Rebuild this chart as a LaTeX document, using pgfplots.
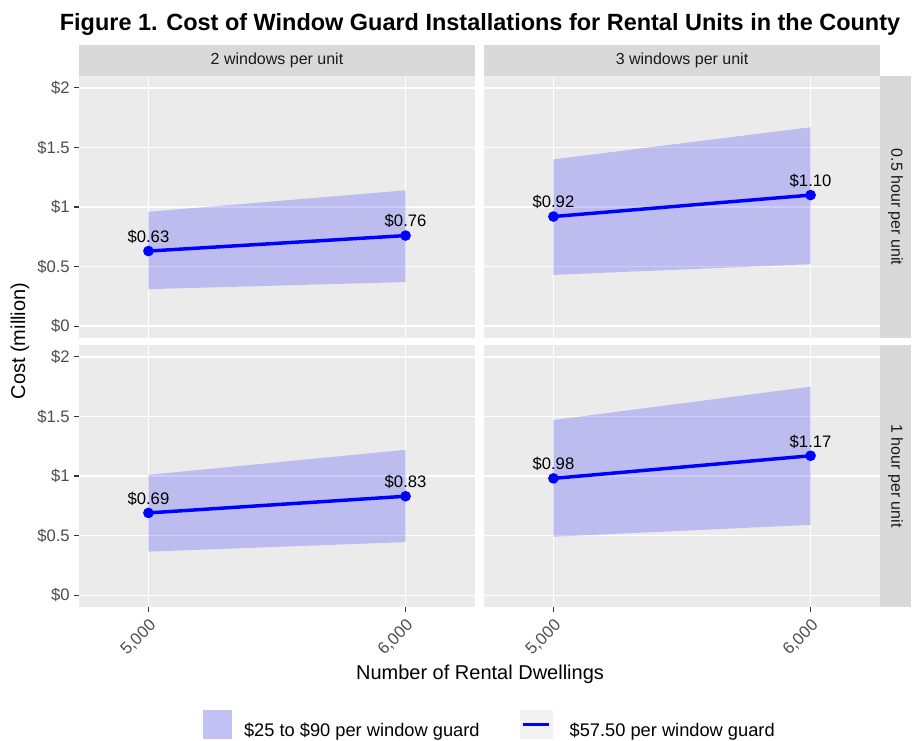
\documentclass[border=0pt]{standalone}
\usepackage{fontspec}
\setmainfont{Liberation Sans}
\usepackage{pgfplots}
\pgfplotsset{compat=1.18}

\definecolor{gray92}{RGB}{235,235,235}
\definecolor{gray85}{RGB}{217,217,217}
\definecolor{gray95}{RGB}{242,242,242}
\definecolor{gray30}{RGB}{77,77,77}
\definecolor{gray20}{RGB}{51,51,51}
\definecolor{gray10}{RGB}{26,26,26}

\pgfplotsset{
  facet/.style={
    width=297pt, height=196.5pt, scale only axis,
    xmin=4730, xmax=6270, ymin=-0.1, ymax=2.1,
    axis background/.style={fill=gray92},
    axis line style={draw=none},
    grid=major, major grid style={white, line width=0.9pt},
    xtick={5000,6000}, ytick={0,0.5,1,1.5,2},
    tickpos=left, tick align=outside, major tick length=3.4pt,
    tick style={gray20, line width=0.8pt},
    tick label style={font=\fontsize{12.5}{14}\selectfont, text=gray30},
    anchor=north west,
  },
  nox/.style={xticklabels={}, xtick style={draw=none}},
  noy/.style={yticklabels={}, ytick style={draw=none}},
  withx/.style={xticklabels={{5,000},{6,000}},
    xticklabel style={rotate=45, anchor=north east}},
  withy/.style={yticklabels={\$0,\$0.5,\$1,\$1.5,\$2}},
  band/.style={forget plot, draw=none, fill=blue, fill opacity=0.2},
  mid/.style={forget plot, blue, line width=2.6pt, mark=*, mark size=2.6pt,
    point meta=y,
    nodes near coords={\$\pgfmathprintnumber[assume math mode=true,fixed,fixed zerofill,precision=2]{\pgfplotspointmeta}},
    nodes near coords style={anchor=south, text=black, yshift=1pt,
      font=\fontsize{12.5}{14}\selectfont}},
}
\newcommand\topstrip[1]{%
  \fill[gray85] (axis description cs:0,1) rectangle ([yshift=23.25pt]axis description cs:1,1);
  \node[text=gray10, font=\fontsize{12}{14}\selectfont] at ([yshift=11.6pt]axis description cs:0.5,1) {#1};}
\newcommand\sidestrip[1]{%
  \fill[gray85] (axis description cs:1,0) rectangle ([xshift=23.25pt]axis description cs:1,1);
  \node[text=gray10, rotate=-90, font=\fontsize{12}{14}\selectfont] at ([xshift=11.6pt]axis description cs:1,0.5) {#1};}

\begin{document}
\begin{tikzpicture}
\path[use as bounding box] (0,0) rectangle (687.75pt,-555pt);

\node[font=\bfseries\fontsize{17.6}{20}\selectfont] at (360pt,-18pt)
  {Figure 1. Cost of Window Guard Installations for Rental Units in the County};

% 2 windows, 0.5 hour
\begin{axis}[facet, nox, withy, at={(59.25pt,-57pt)},
  extra description/.code={\topstrip{2 windows per unit}}]
\addplot[band] coordinates {(5000,0.31) (6000,0.37) (6000,1.14) (5000,0.96)};
\addplot[mid] coordinates {(5000,0.63) (6000,0.76)};
\end{axis}

% 3 windows, 0.5 hour
\begin{axis}[facet, nox, noy, at={(363pt,-57pt)},
  extra description/.code={\topstrip{3 windows per unit}\sidestrip{0.5 hour per unit}}]
\addplot[band] coordinates {(5000,0.43) (6000,0.52) (6000,1.67) (5000,1.40)};
\addplot[mid] coordinates {(5000,0.92) (6000,1.10)};
\end{axis}

% 2 windows, 1 hour
\begin{axis}[facet, withx, withy, at={(59.25pt,-258.75pt)},
  legend columns=2,
  legend style={at={(1.038,-0.452)}, anchor=center, draw=none, fill=none,
    font=\fontsize{13.7}{15}\selectfont, cells={anchor=west},
    /tikz/every even column/.append style={column sep=28pt}}]
\addplot[band] coordinates {(5000,0.365) (6000,0.445) (6000,1.22) (5000,1.01)};
\addplot[mid] coordinates {(5000,0.69) (6000,0.83)};
\addlegendimage{draw=none, legend image code/.code={
  \fill[gray95, draw=none] (0pt,-6.2pt) rectangle (21.75pt,15.5pt);
  \fill[blue, fill opacity=0.2, draw=none] (0pt,-6.2pt) rectangle (21.75pt,15.5pt);
  \path (0pt,0pt) -- (29pt,0pt);}}
\addlegendentry{\$25 to \$90 per window guard}
\addlegendimage{draw=none, legend image code/.code={
  \fill[gray95, draw=none] (0pt,-6.2pt) rectangle (24.75pt,15.5pt);
  \draw[blue, line width=2.6pt] (2.5pt,4.65pt) -- (22.25pt,4.65pt);
  \path (0pt,0pt) -- (35.5pt,0pt);}}
\addlegendentry{\$57.50 per window guard}
\end{axis}

% 3 windows, 1 hour
\begin{axis}[facet, withx, noy, at={(363pt,-258.75pt)},
  extra description/.code={\sidestrip{1 hour per unit}}]
\addplot[band] coordinates {(5000,0.49) (6000,0.59) (6000,1.75) (5000,1.47)};
\addplot[mid] coordinates {(5000,0.98) (6000,1.17)};
\end{axis}

\node[rotate=90, font=\fontsize{15}{17}\selectfont] at (15pt,-255.75pt) {Cost (million)};
\node[anchor=base, font=\fontsize{15}{17}\selectfont] at (360pt,-509.25pt) {Number of Rental Dwellings};
\end{tikzpicture}
\end{document}
